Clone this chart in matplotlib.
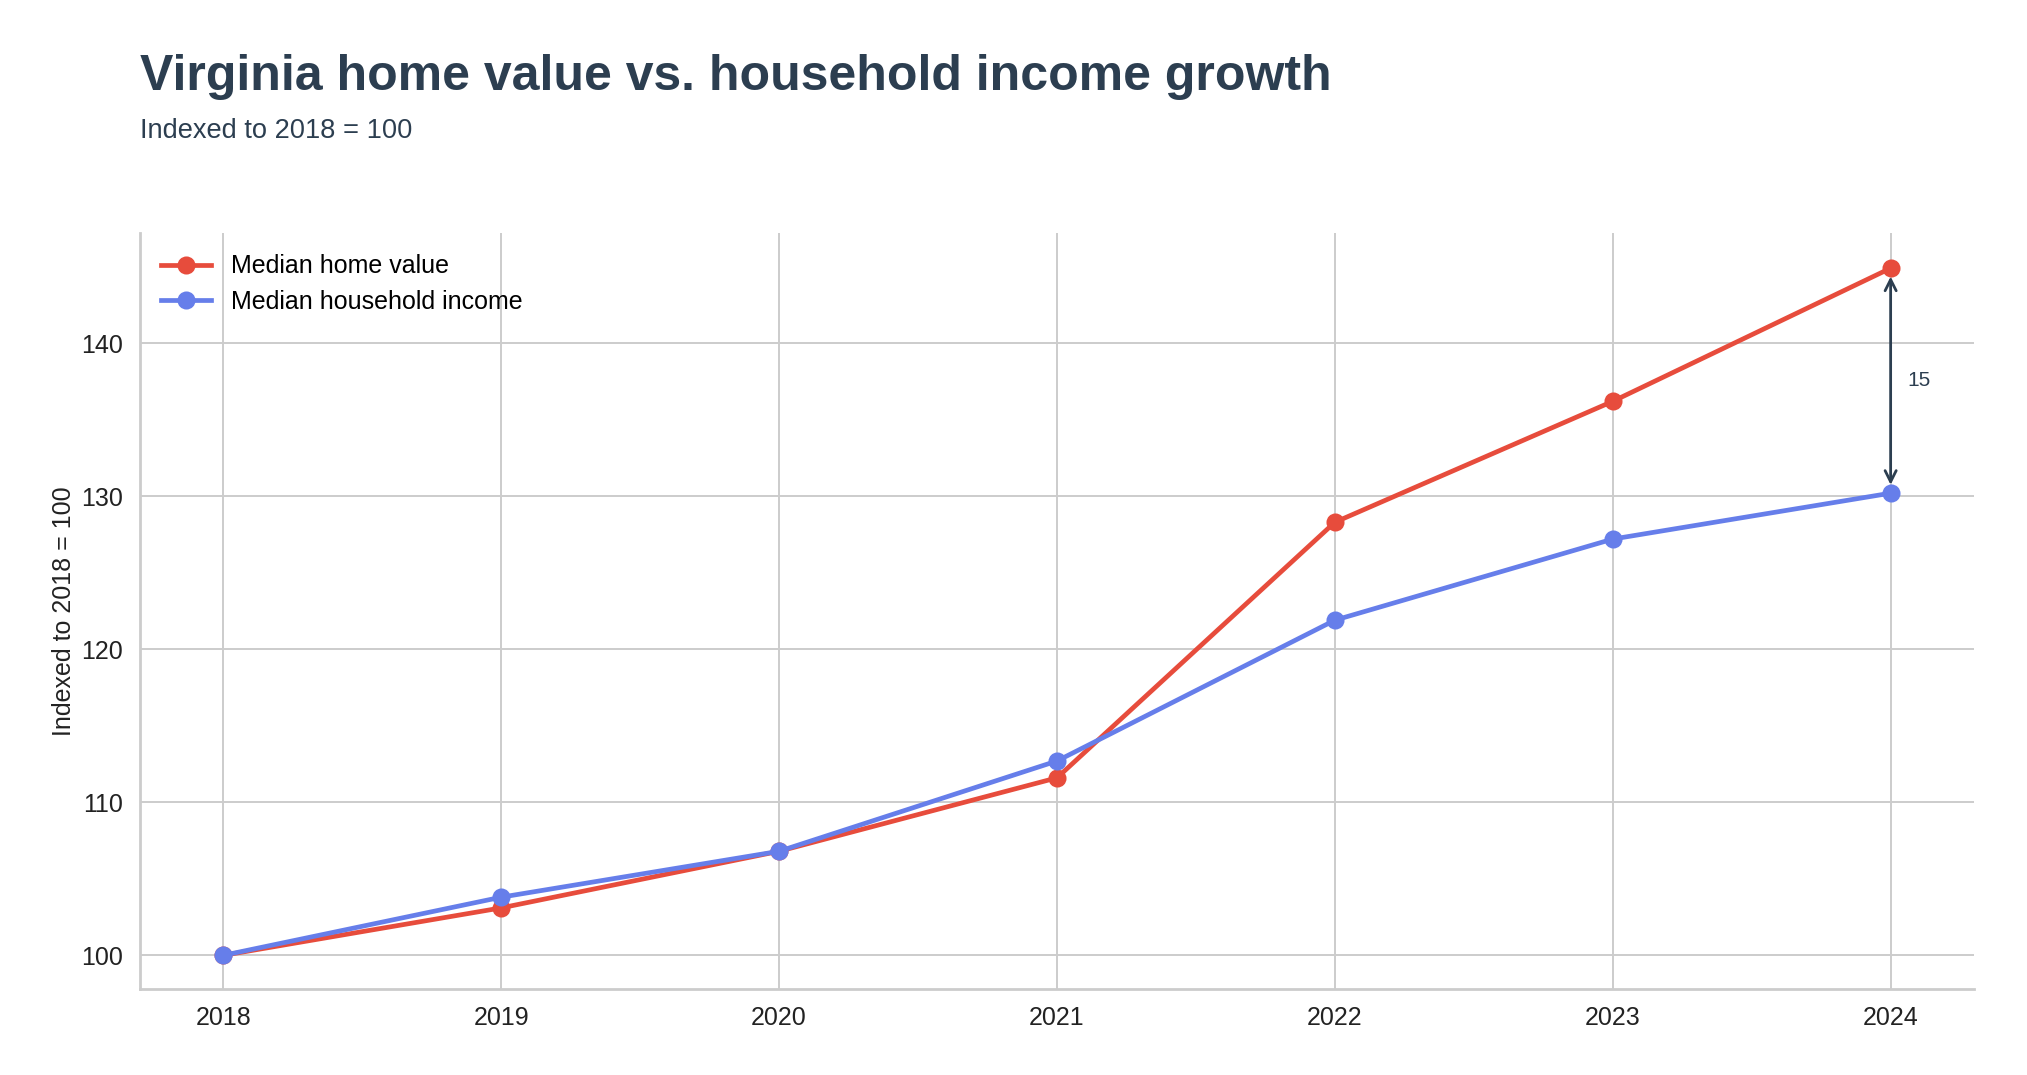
import matplotlib
matplotlib.use("Agg")
import matplotlib.pyplot as plt

plt.rcParams['font.family'] = ['Liberation Sans', 'DejaVu Sans']

years = [2018, 2019, 2020, 2021, 2022, 2023, 2024]
home_value = [100.0, 103.1, 106.8, 111.6, 128.3, 136.2, 144.9]
household_income = [100.0, 103.8, 106.8, 112.7, 121.9, 127.2, 130.2]
series_labels = ["Median home value", "Median household income"]
gap_label = "15"

red = "#e74c3c"
blue = "#667eea"
dark = "#2c3e50"

fig = plt.figure(figsize=(10.135, 5.375), dpi=200)
ax = fig.add_axes([140 / 2027, 1 - 989 / 1075, (1974 - 140) / 2027, (989 - 233) / 1075])

ax.plot(years, home_value, color=red, lw=1.7, marker='o', ms=5.5, label=series_labels[0], zorder=3)
ax.plot(years, household_income, color=blue, lw=1.7, marker='o', ms=5.5, label=series_labels[1], zorder=3)

ax.set_xlim(2017.7, 2024.3)
ax.set_ylim(97.8, 147.2)
ax.set_xticks(years)
ax.set_yticks([100, 110, 120, 130, 140])
ax.tick_params(length=0, labelsize=9, colors="#222222", pad=6)
ax.grid(True, color="#cccccc", lw=0.7)
ax.set_axisbelow(True)
for s in ["top", "right"]:
    ax.spines[s].set_visible(False)
for s in ["left", "bottom"]:
    ax.spines[s].set_color("#cccccc")
    ax.spines[s].set_linewidth(1.0)

ax.set_ylabel("Indexed to 2018 = 100", fontsize=9, color="#222222")
ax.yaxis.set_label_coords(-0.035, 0.5)

leg = ax.legend(loc="upper left", frameon=False, fontsize=9, handlelength=2.0,
                borderaxespad=0.45, labelspacing=0.45)

# gap arrow between the last points
ax.annotate("", xy=(years[-1], home_value[-1]), xytext=(years[-1], household_income[-1]),
            arrowprops=dict(arrowstyle="<->", color=dark, lw=1.0, shrinkA=3, shrinkB=3), zorder=4)
ax.annotate(gap_label, xy=(years[-1], (home_value[-1] + household_income[-1]) / 2),
            xytext=(6, 0), textcoords="offset points", fontsize=7.5, color=dark,
            va="center", ha="left")

fig.text(140 / 2027, 1 - 90 / 1075, "Virginia home value vs. household income growth",
         fontsize=18, fontweight="bold", color=dark, ha="left", va="baseline")
fig.text(140 / 2027, 1 - 138 / 1075, "Indexed to 2018 = 100",
         fontsize=9.8, color=dark, ha="left", va="baseline")

fig.savefig("out.png", dpi=200, facecolor="white")
